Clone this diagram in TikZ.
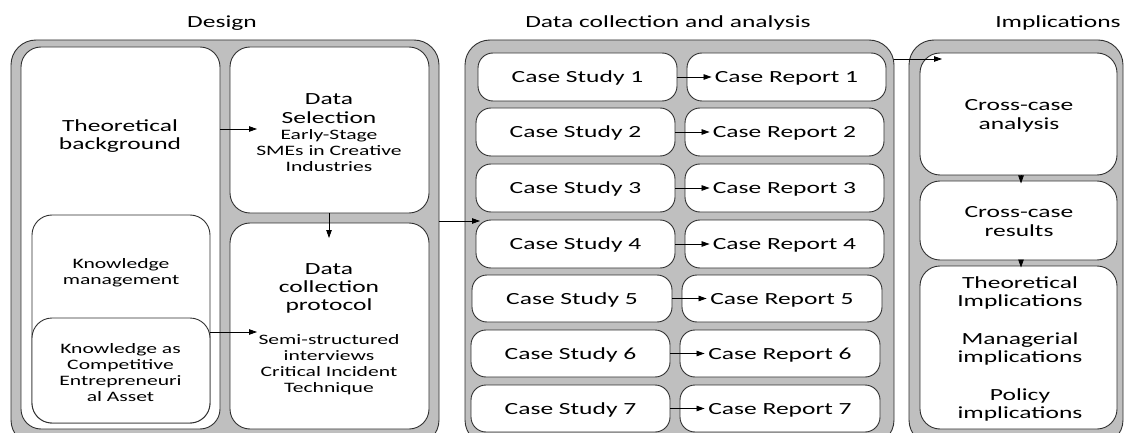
\documentclass[tikz,border=0pt]{standalone}
\usepackage{fontspec}
\setmainfont{Carlito}[FakeStretch=1.5]
\usetikzlibrary{fit,arrows.meta}
\newcommand\fbig{\fontsize{17}{18.5}\selectfont}
\newcommand\fsml{\fontsize{14.4}{16}\selectfont}
\definecolor{panelgray}{HTML}{BFBFBF}
\definecolor{edge}{HTML}{303030}
\tikzset{
  outerbox/.style={draw=edge, fill=panelgray, line width=0.9pt, rounded corners=25pt, inner sep=0pt},
  inbox/.style={draw=edge, fill=white, line width=0.9pt, rounded corners=20pt, inner sep=0pt},
  casebox/.style={inbox, rounded corners=15pt},
  txt/.style={align=center, inner sep=0pt},
  linetxt/.style={inner sep=0pt, anchor=base, font=\fbig},
  arr/.style={-{Triangle[length=8pt,width=5.5pt]}, line width=0.8pt, draw=black},
}
\begin{document}
\begin{tikzpicture}[x=1pt,y=-1pt]
\useasboundingbox (0,0) rectangle (1125,433);
\clip (0,0) rectangle (1125,433);
\fill[white] (0,0) rectangle (1125,433);

% titles
\node[linetxt] (t1) at (222,28) {Design};
\node[linetxt] (t2) at (668,28) {Data collection and analysis};
\node[linetxt] (t3) at (1058,28) {Implications};

% outer panels
\node[outerbox, fit={(11,40) (439,445)}] (design) {};
\node[outerbox, fit={(465,40) (894,445)}] (mid) {};
\node[outerbox, fit={(909,40) (1123,445)}] (impl) {};

% design panel
\node[inbox, fit={(21,47) (220,429)}] (tb) {};
\node[txt, font=\fbig] (tbt) at (120,136) {Theoretical\\background};
\node[inbox, fit={(32,215) (210,423)}] (km) {};
\node[txt, font=\fsml] (kmt) at (121,273) {Knowledge\\management};
\node[inbox, fit={(32,318) (210,423)}] (ka) {};
\node[txt, font=\fsml] (kat) at (120.5,373) {Knowledge as\\Competitive\\Entrepreneuri\\al Asset};
\node[inbox, fit={(230,47) (429,213)}] (ds) {};
\node[txt, font=\fsml] (dst) at (329,132.5) {{\fbig Data}\\[3pt]{\fbig Selection}\\[0.6pt]Early-Stage\\SMEs in Creative\\Industries};
\node[inbox, fit={(230,223) (429,429)}] (dc) {};
\node[txt, font=\fsml] (dct) at (329,329) {{\fbig Data}\\[2.4pt]{\fbig collection}\\[2.3pt]{\fbig protocol}\\[17.3pt]Semi-structured\\interviews\\Critical Incident\\Technique};

\coordinate (p1) at (257,129);
\coordinate (p2) at (257,332);
\coordinate (p3) at (329,238);
\coordinate (p4) at (480,221);
\draw[arr] (tb.east |- p1) -- (p1);
\draw[arr] (ka.east |- p2) -- (p2);
\draw[arr] (ds.south -| p3) -- (p3);
\draw[arr] (design.east |- p4) -- (p4);

% case rows
\foreach \i/\ya/\yb/\sa/\sb/\ra/\rb in {1/53/101/478/677/687/886, 2/108/156/476/675/685/884, 3/164/212/476/675/685/884, 4/220/268/476/675/685/884, 5/275/322/472/672/682/882, 6/330/377/471/670/680/880, 7/385/432/471/670/680/880}{
  \node[casebox, fit={(\sa,\ya) (\sb,\yb)}] (cs\i) {};
  \node[casebox, fit={(\ra,\ya) (\rb,\yb)}] (cr\i) {};
  \node[linetxt] (cst\i) at ([yshift=-5.7pt]cs\i.center) {Case Study \i};
  \node[linetxt] (crt\i) at ([yshift=-5.7pt]cr\i.center) {Case Report \i};
  \draw[arr] (cs\i.east) -- ([xshift=25pt]cr\i.west);
}

% implications panel
\node[inbox, fit={(920,53) (1117,175)}] (ca) {};
\node[txt, font=\fbig] (cat) at (1019,116) {Cross-case\\analysis};
\node[inbox, fit={(920,181) (1117,260)}] (cres) {};
\node[txt, font=\fbig] (crest) at (1019,221.5) {Cross-case\\results};
\node[inbox, fit={(920,266) (1117,429)}] (ti) {};
\node[txt, font=\fbig] (tit) at (1020,349) {Theoretical\\Implications\\[19pt]Managerial\\implications\\[19pt]Policy\\implications};

\coordinate (p5) at (942,59);
\coordinate (p6) at (1021,183.5);
\coordinate (p7) at (1021,267.5);
\draw[arr] (mid.east |- p5) -- (p5);
\draw[arr] (ca.south -| p6) -- (p6);
\draw[arr] (cres.south -| p7) -- (p7);
\end{tikzpicture}
\end{document}
